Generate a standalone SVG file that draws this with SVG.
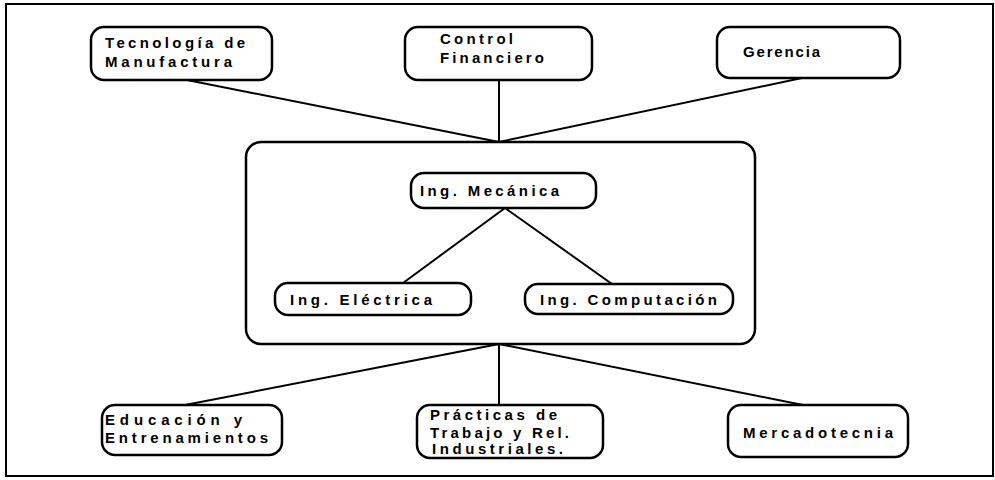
<svg xmlns="http://www.w3.org/2000/svg" width="995" height="480" viewBox="0 0 995 480">
<style>
.box{fill:#fff;stroke:#000;stroke-width:2.5}
.frame{fill:none;stroke:#000;stroke-width:2.5}
.ln{stroke:#000;stroke-width:2;fill:none}
text{font-family:"Liberation Sans",Arial,sans-serif;font-weight:bold;font-size:15px;fill:#000}
</style>
<rect x="0" y="0" width="995" height="480" fill="#fff"/>
<rect x="6" y="4" width="987" height="472" fill="none" stroke="#000" stroke-width="2"/>
<g id="connectors">
<line class="ln" x1="187" y1="80" x2="499" y2="142"/>
<line class="ln" x1="499" y1="80" x2="499" y2="142"/>
<line class="ln" x1="802" y1="78" x2="499" y2="142"/>
<line class="ln" x1="505" y1="208" x2="403" y2="283"/>
<line class="ln" x1="505" y1="208" x2="612" y2="284"/>
<line class="ln" x1="499" y1="344" x2="185" y2="405"/>
<line class="ln" x1="499" y1="344" x2="499" y2="405"/>
<line class="ln" x1="499" y1="344" x2="803" y2="405"/>
</g>
<g id="tecnologia">
<rect class="box" x="91" y="27" width="181" height="53" rx="13"/>
<text x="105" y="48" textLength="140" lengthAdjust="spacing">Tecnología de</text>
<text x="105" y="67" textLength="127" lengthAdjust="spacing">Manufactura</text>
</g>
<g id="control">
<rect class="box" x="405" y="27" width="187" height="53" rx="13"/>
<text x="440" y="44" textLength="73" lengthAdjust="spacing">Control</text>
<text x="440" y="63" textLength="104" lengthAdjust="spacing">Financiero</text>
</g>
<g id="gerencia">
<rect class="box" x="717" y="27" width="183" height="51" rx="13"/>
<text x="743" y="57" textLength="77" lengthAdjust="spacing">Gerencia</text>
</g>
<g id="centro">
<rect class="frame" x="246" y="142" width="509" height="202" rx="15"/>
</g>
<g id="mecanica">
<rect class="box" x="411" y="173" width="185" height="35" rx="13"/>
<text x="420" y="196" textLength="139" lengthAdjust="spacing">Ing. Mecánica</text>
</g>
<g id="electrica">
<rect class="box" x="275" y="283" width="196" height="32" rx="13"/>
<text x="290" y="305" textLength="142" lengthAdjust="spacing">Ing. Eléctrica</text>
</g>
<g id="computacion">
<rect class="box" x="525" y="284" width="208" height="30" rx="13"/>
<text x="540" y="305" textLength="177" lengthAdjust="spacing">Ing. Computación</text>
</g>
<g id="educacion">
<rect class="box" x="102" y="405" width="180" height="50" rx="13"/>
<text x="105" y="425" textLength="137" lengthAdjust="spacing">Educación y</text>
<text x="105" y="443" textLength="163" lengthAdjust="spacing">Entrenamientos</text>
</g>
<g id="practicas">
<rect class="box" x="417" y="405" width="186" height="53" rx="13"/>
<text x="430" y="420" textLength="127" lengthAdjust="spacing">Prácticas de</text>
<text x="430" y="438" textLength="139" lengthAdjust="spacing">Trabajo y Rel.</text>
<text x="432" y="454" textLength="131" lengthAdjust="spacing">Industriales.</text>
</g>
<g id="mercadotecnia">
<rect class="box" x="728" y="405" width="180" height="52" rx="13"/>
<text x="743" y="438" textLength="150" lengthAdjust="spacing">Mercadotecnia</text>
</g>
</svg>
